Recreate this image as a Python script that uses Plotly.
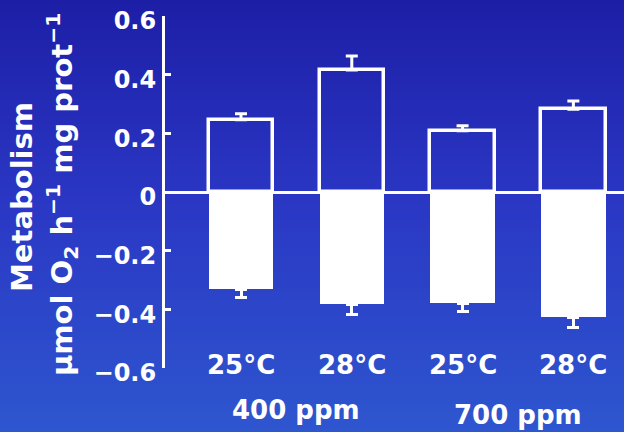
import plotly.graph_objects as go

# ---- data ----
temps = ["25°C", "28°C", "25°C", "28°C"]
groups = ["400 ppm", "700 ppm"]
pos_values = [0.246, 0.416, 0.209, 0.282]
pos_err = [0.021, 0.048, 0.017, 0.028]
neg_values = [-0.331, -0.382, -0.379, -0.427]
neg_err = [0.030, 0.034, 0.027, 0.034]
tick_vals = [-0.6, -0.4, -0.2, 0, 0.2, 0.4, 0.6]
tick_text = ["\u22120.6", "\u22120.4", "\u22120.2", "0", "0.2", "0.4", "0.6"]

xpos = list(range(len(temps)))
group_pos = [0.5, 2.5]

W, H = 624, 432
ML, MR, MT, MB = 165, 0, 16, 64
pw, ph = W - ML - MR, H - MT - MB

FONT = "DejaVu Sans"
WHITE = "white"

fig = go.Figure()

fig.add_trace(go.Bar(
    x=xpos, y=neg_values, width=0.58,
    marker=dict(color=WHITE, line=dict(width=0)),
    error_y=dict(type="data", symmetric=False, array=[0] * len(neg_err),
                 arrayminus=neg_err, color=WHITE, thickness=3, width=6),
    hoverinfo="skip", showlegend=False,
))
fig.add_trace(go.Bar(
    x=xpos, y=pos_values, width=0.58,
    marker=dict(color="rgba(0,0,0,0)", line=dict(width=3.5, color=WHITE)),
    error_y=dict(type="data", symmetric=False, array=pos_err,
                 arrayminus=[0] * len(pos_err), color=WHITE, thickness=3, width=6),
    hoverinfo="skip", showlegend=False,
))

# background gradient (stripes)
stops = [(0, (29, 30, 166)), (200, (42, 55, 196)), (432, (46, 86, 207))]
def col_at(py):
    for (a, ca), (b, cb) in zip(stops[:-1], stops[1:]):
        if a <= py <= b:
            t = (py - a) / (b - a)
            return tuple(round(ca[i] + (cb[i] - ca[i]) * t) for i in range(3))
    return stops[-1][1]

shapes = []
step = 4
for py in range(0, H, step):
    c = col_at(py + step / 2)
    y1 = 1 + (MT - py) / ph
    y0 = 1 + (MT - py - step - 0.5) / ph
    shapes.append(dict(type="rect", xref="paper", yref="paper",
                       x0=-ML / pw - 0.01, x1=1 + 0.01, y0=y0, y1=y1,
                       fillcolor="rgb(%d,%d,%d)" % c, line=dict(width=0),
                       layer="below"))

annotations = []
for x, t in zip(xpos, temps):
    annotations.append(dict(x=x, y=-0.6, xref="x", yref="y", text=t,
                            showarrow=False, yanchor="middle", yshift=3,
                            font=dict(family=FONT, size=26, color=WHITE, weight="bold")))
for gx, g, yp in zip(group_pos, groups, [-0.119, -0.134]):
    annotations.append(dict(x=gx, y=yp, xref="x", yref="paper", text=g,
                            showarrow=False, yanchor="middle",
                            font=dict(family=FONT, size=26, color=WHITE, weight="bold")))
annotations.append(dict(x=(22 - ML) / pw, y=(H - MB - 197) / ph, xref="paper", yref="paper",
                        text="Metabolism", textangle=-90, showarrow=False,
                        xanchor="center", yanchor="middle",
                        font=dict(family=FONT, size=29, color=WHITE, weight="bold")))
annotations.append(dict(x=(62 - ML) / pw, y=(H - MB - 195) / ph, xref="paper", yref="paper",
                        text="µmol O<sub>2</sub> h<sup>\u22121</sup> mg prot<sup>\u22121</sup>",
                        textangle=-90, showarrow=False,
                        xanchor="center", yanchor="middle",
                        font=dict(family=FONT, size=29, color=WHITE, weight="bold")))

fig.update_layout(
    width=W, height=H,
    margin=dict(l=ML, r=MR, t=MT, b=MB, pad=0),
    paper_bgcolor="rgb(40,52,190)", plot_bgcolor="rgba(0,0,0,0)",
    barmode="overlay", bargap=0,
    shapes=shapes, annotations=annotations,
    xaxis=dict(range=[-0.686, 3.457], visible=False, fixedrange=True),
    yaxis=dict(range=[-0.6, 0.6001], tickvals=tick_vals, ticktext=tick_text,
               showgrid=False, zeroline=True, zerolinecolor=WHITE, zerolinewidth=3,
               showline=True, linecolor=WHITE, linewidth=3,
               ticks="inside", ticklen=6, tickwidth=3, tickcolor=WHITE,
               ticklabelshift=5, ticklabelstandoff=1,
               tickfont=dict(family=FONT, size=24, color=WHITE, weight="bold"),
               fixedrange=True),
    showlegend=False,
)

fig.write_html("out.html")
